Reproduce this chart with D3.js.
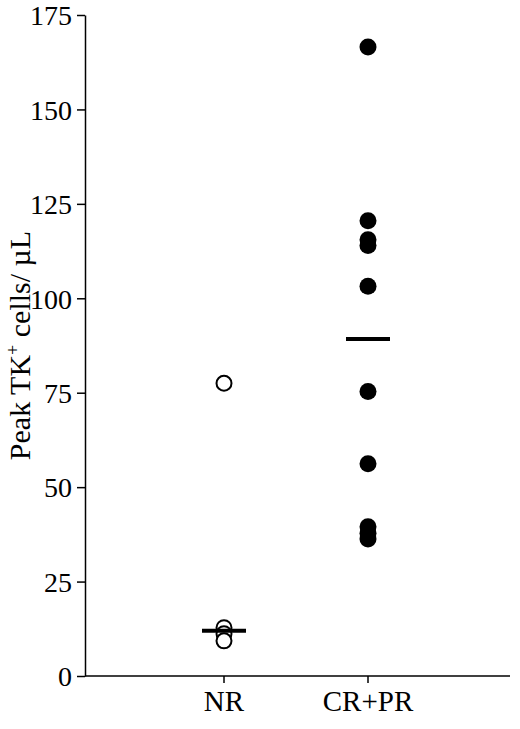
<!DOCTYPE html>
<html><head><meta charset="utf-8">
<script src="https://cdn.jsdelivr.net/npm/d3@7"></script>
<style>body{margin:0;background:#fff}</style>
</head><body><div id="chart"></div>
<script>
const groups = ["NR", "CR+PR"];
const nrValues = [77.5, 12.8, 11.2, 9.3];
const crprValues = [166.5, 120.5, 115.5, 114, 103.2, 75.3, 56.2, 39.5, 37.8, 36.3];
const yTicks = [0, 25, 50, 75, 100, 125, 150, 175];

const width = 520, height = 729;
const margin = { top: 15, right: 10, bottom: 53, left: 85 };

const svg = d3.select("#chart").append("svg")
    .attr("width", width).attr("height", height)
    .style("font-family", "'Liberation Serif', serif");

const y = d3.scaleLinear().domain([0, 175]).range([height - margin.bottom, margin.top]);
const x = d3.scalePoint().domain(groups).range([224, 368]);

// y axis
const ya = svg.append("g").attr("transform", `translate(${margin.left},0)`)
    .call(d3.axisLeft(y).tickValues(yTicks).tickSize(8).tickSizeOuter(0));
ya.select(".domain").attr("stroke", "#000").attr("stroke-width", 1.5);
ya.selectAll("line").attr("stroke-width", 1.5);
ya.selectAll("text").style("font-size", "28px").attr("x", -13).attr("dy", "0.35em")
    .style("font-family", "'Liberation Serif', serif");

// x axis
const xa = svg.append("g").attr("transform", `translate(0,${y(0)})`);
xa.append("line").attr("x1", margin.left).attr("x2", width - margin.right)
    .attr("stroke", "#000").attr("stroke-width", 1.5);
groups.forEach(g => {
    xa.append("line").attr("x1", x(g)).attr("x2", x(g)).attr("y1", 0).attr("y2", 7)
        .attr("stroke", "#000").attr("stroke-width", 1.5);
    xa.append("text").attr("x", x(g)).attr("y", 35).attr("text-anchor", "middle")
        .style("font-size", "29px").text(g);
});

// y label
svg.append("text")
    .attr("transform", `translate(30,${y(87.5)}) rotate(-90)`)
    .attr("text-anchor", "middle").style("font-size", "30px")
    .html('Peak TK<tspan dy="-11" font-size="18">+</tspan><tspan dy="11"> cells/ µL</tspan>');

// points
svg.selectAll(".nr").data(nrValues).join("circle")
    .attr("cx", x("NR")).attr("cy", d => y(d)).attr("r", 7.5)
    .attr("fill", "#fff").attr("stroke", "#000").attr("stroke-width", 2);
svg.selectAll(".cr").data(crprValues).join("circle")
    .attr("cx", x("CR+PR")).attr("cy", d => y(d)).attr("r", 8.5)
    .attr("fill", "#000");

// medians
[["NR", nrValues], ["CR+PR", crprValues]].forEach(([g, v]) => {
    const m = d3.median(v);
    svg.append("line").attr("x1", x(g) - 22).attr("x2", x(g) + 22)
        .attr("y1", y(m)).attr("y2", y(m)).attr("stroke", "#000").attr("stroke-width", 4);
});
</script></body></html>
